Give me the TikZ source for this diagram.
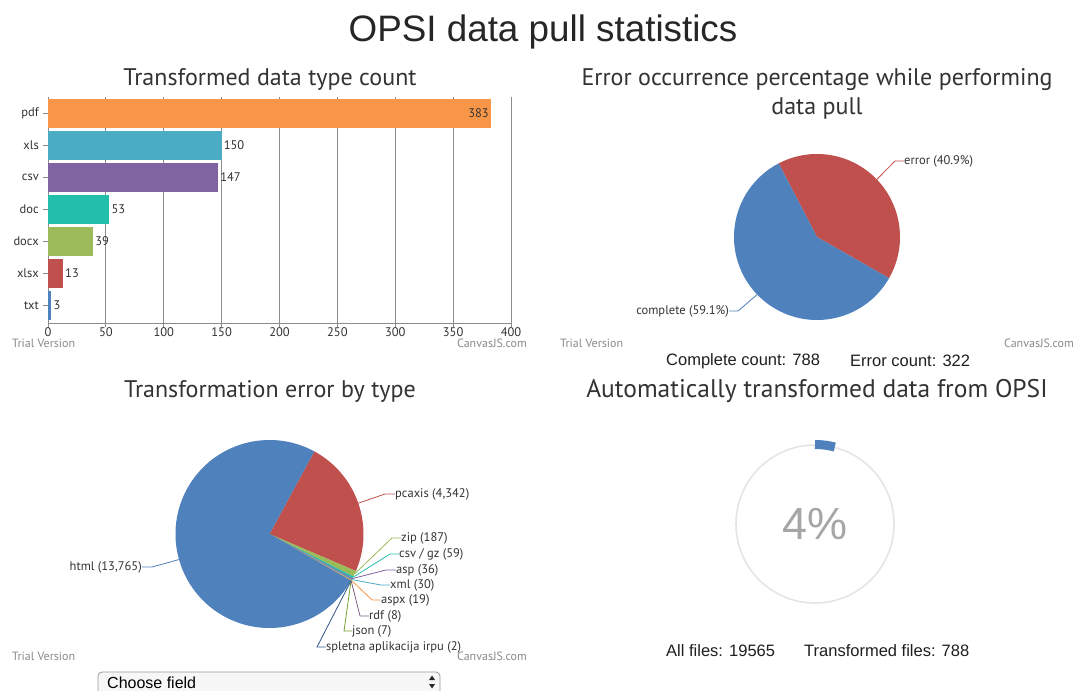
\documentclass[tikz,border=0pt]{standalone}
\usepackage{fontspec}
\setmainfont{Liberation Sans}
\newfontfamily\cjs{PT Sans}
\definecolor{c1}{HTML}{4F81BC}
\definecolor{c2}{HTML}{C0504E}
\definecolor{c3}{HTML}{9BBB58}
\definecolor{c4}{HTML}{23BFAA}
\definecolor{c5}{HTML}{8064A1}
\definecolor{c6}{HTML}{4AACC5}
\definecolor{c7}{HTML}{F79647}
\definecolor{c8}{HTML}{7F6084}
\definecolor{c9}{HTML}{77A033}
\definecolor{c10}{HTML}{33558B}
\definecolor{txt}{HTML}{333333}
\definecolor{wmgray}{HTML}{8A8A8A}
\definecolor{gridc}{HTML}{8C8C8C}
\begin{document}
\begin{tikzpicture}[x=1pt,y=-1pt,
  lbl/.style={font=\cjs\fontsize{12.5}{14}\selectfont, text=txt, inner sep=0pt},
  ttl/.style={font=\cjs\fontsize{24}{28}\selectfont, text=txt, inner sep=0pt},
  wm/.style={font=\cjs\fontsize{12}{14}\selectfont, text=wmgray, inner sep=0pt},
  pagetxt/.style={font=\fontsize{16.5}{19}\selectfont, text=black!88, inner sep=0pt},
  gridline/.style={draw=gridc, line width=0.8pt},
  leader/.style={line width=0.8pt}
]
\clip (0,0) rectangle (1075,690);
\fill[white] (0,0) rectangle (1075,690);

% main title
\node[font=\fontsize{36.8}{40}\selectfont, text=black!85, inner sep=0pt] (maintitle) at (543,32) {OPSI data pull statistics};

% ---------------- bar chart ----------------
\node[ttl] (t1) at (270,79) {Transformed data type count};
\foreach \v in {0,50,...,400}{
  \draw[gridline] ({48+\v*1.1575},97) -- ({48+\v*1.1575},327);
  \node[lbl, anchor=north] (xt\v) at ({48+\v*1.1575},327.5) {\v};
}
\draw[gridline] (48,323) -- (511,323);
\foreach \n/\v/\y/\c in {pdf/383/113.5/c7, xls/150/145.5/c6, csv/147/177.5/c5, doc/53/209.5/c4, docx/39/241.5/c3, xlsx/13/273.5/c2, txt/3/305.5/c1}{
  \fill[\c] (48,{\y-14.5}) rectangle ({48+\v*1.1575},{\y+14.5});
  \draw[gridline] (43,\y) -- (48,\y);
  \node[lbl, anchor=east] (cat\n) at (39,\y) {\n};
}
\node[lbl, anchor=east] (vpdf) at (489,113.5) {383};
\foreach \n/\v/\y in {xls/150/145.5, csv/147/177.5, doc/53/209.5, docx/39/241.5, xlsx/13/273.5, txt/3/305.5}{
  \node[lbl, anchor=west] (v\n) at ({50+\v*1.1575},\y) {\v};
}
\node[wm, anchor=west] (tv1) at (12,343) {Trial Version};
\node[wm, anchor=east] (cj1) at (527,343) {CanvasJS.com};

% ---------------- error pie ----------------
\node[ttl] (t2a) at (817,80) {Error occurrence percentage while performing};
\node[ttl] (t2b) at (817,108) {data pull};
\begin{scope}[shift={(817,237)}]
\begin{scope}[y=1pt]
  \fill[c2] (0,0) -- (117.5:83) arc[start angle=117.5, end angle=-29.74, radius=83] -- cycle;
  \fill[c1] (0,0) -- (-29.74:83) arc[start angle=-29.74, end angle=-242.5, radius=83] -- cycle;
  \coordinate (eerr) at (43.9:83);
  \coordinate (ecom) at (223.9:83);
\end{scope}
\end{scope}
\coordinate (berr) at (895,161);
\node[lbl, anchor=west] (lerr) at (904,161) {error (40.9\%)};
\draw[c2, leader] (eerr) -- (berr) -- (lerr.west);
\coordinate (bcom) at (738,311);
\node[lbl, anchor=east] (lcom) at (729,311) {complete (59.1\%)};
\draw[c1, leader] (ecom) -- (bcom) -- (lcom.east);
\node[wm, anchor=west] (tv2) at (560,343) {Trial Version};
\node[wm, anchor=east] (cj2) at (1074,343) {CanvasJS.com};
\node[pagetxt, anchor=west] (ccount) at (666,361) {Complete count: 788};
\node[pagetxt, anchor=west] (ecount) at (850,361) {Error count: 322};

% ---------------- type pie ----------------
\node[ttl] (t3) at (270,391) {Transformation error by type};
\begin{scope}[shift={(269.5,534)}]
\begin{scope}[y=1pt]
  \fill[c2] (0,0) -- (61.5:94) arc[start angle=61.5, end angle=-23.2, radius=94] -- cycle;
  \fill[c3] (0,0) -- (-23.2:94) arc[start angle=-23.2, end angle=-26.85, radius=94] -- cycle;
  \fill[c4] (0,0) -- (-26.85:94) arc[start angle=-26.85, end angle=-28.0, radius=94] -- cycle;
  \fill[c5] (0,0) -- (-28.0:94) arc[start angle=-28.0, end angle=-28.7, radius=94] -- cycle;
  \fill[c6] (0,0) -- (-28.7:94) arc[start angle=-28.7, end angle=-29.29, radius=94] -- cycle;
  \fill[c7] (0,0) -- (-29.29:94) arc[start angle=-29.29, end angle=-29.66, radius=94] -- cycle;
  \fill[c8] (0,0) -- (-29.66:94) arc[start angle=-29.66, end angle=-29.82, radius=94] -- cycle;
  \fill[c9] (0,0) -- (-29.82:94) arc[start angle=-29.82, end angle=-29.96, radius=94] -- cycle;
  \fill[c10] (0,0) -- (-29.96:94) arc[start angle=-29.96, end angle=-30.0, radius=94] -- cycle;
  \fill[c1] (0,0) -- (-30.0:94) arc[start angle=-30.0, end angle=-298.5, radius=94] -- cycle;
  \coordinate (ehtml) at (-164.25:94);
  \coordinate (epc) at (19.15:94);
  \coordinate (ezip) at (-25.0:94);
  \coordinate (ecsv) at (-27.4:94);
  \coordinate (easp) at (-28.35:94);
  \coordinate (exml) at (-29.0:94);
  \coordinate (easpx) at (-29.47:94);
  \coordinate (erdf) at (-29.74:94);
  \coordinate (ejson) at (-29.89:94);
  \coordinate (espl) at (-29.98:94);
\end{scope}
\end{scope}
\foreach \k/\c/\bx/\tx/\y/\t in {
   pc/c2/385/395/494/{pcaxis (4,342)},
   zip/c3/392/401/538/{zip (187)},
   csv/c4/390/399/554/{csv / gz (59)},
   asp/c5/386/396/570/{asp (36)},
   xml/c6/381/390/585/{xml (30)},
   aspx/c7/372/381/600/{aspx (19)},
   rdf/c8/360/369/616/{rdf (8)},
   json/c9/344/352/631/{json (7)},
   spl/c10/317/326/647/{spletna aplikacija irpu (2)}}{
  \coordinate (b\k) at (\bx,\y);
  \node[lbl, anchor=west] (l\k) at (\tx,\y) {\t};
  \draw[\c, leader] (e\k) -- (b\k) -- (l\k.west);
}
\coordinate (bhtml) at (152,567);
\node[lbl, anchor=east] (lhtml) at (142,567) {html (13,765)};
\draw[c1, leader] (ehtml) -- (bhtml) -- (lhtml.east);
\node[wm, anchor=west] (tv3) at (12,656) {Trial Version};
\node[wm, anchor=east] (cj3) at (527,656) {CanvasJS.com};

% select box
\draw[draw=black!40, fill=black!3, rounded corners=4pt, line width=0.8pt] (98,672) rectangle (440,702);
\node[font=\fontsize{16}{19}\selectfont, text=black, inner sep=0pt, anchor=west] (choose) at (107,683) {Choose field};
\fill[black!85] (429,680) -- (435,680) -- (432,675.5) -- cycle;
\fill[black!85] (429,684) -- (435,684) -- (432,688.5) -- cycle;

% ---------------- gauge ----------------
\node[ttl, font=\cjs\fontsize{25.5}{29}\selectfont] (t4) at (817,391) {Automatically transformed data from OPSI};
\begin{scope}[shift={(815,524)}]
\begin{scope}[y=1pt]
  \draw[black!10, line width=1.6pt] (0,0) circle[radius=79];
  \draw[c1, line width=9pt] (90:79.5) arc[start angle=90, end angle=75.6, radius=79.5];
\end{scope}
\end{scope}
\node[font=\fontsize{45}{50}\selectfont, text=black!35, inner sep=0pt] (pct) at (815,524) {4\%};
\node[pagetxt, anchor=west] (allf) at (666,651) {All files: 19565};
\node[pagetxt, anchor=west] (trf) at (804,651) {Transformed files: 788};
\end{tikzpicture}
\end{document}
